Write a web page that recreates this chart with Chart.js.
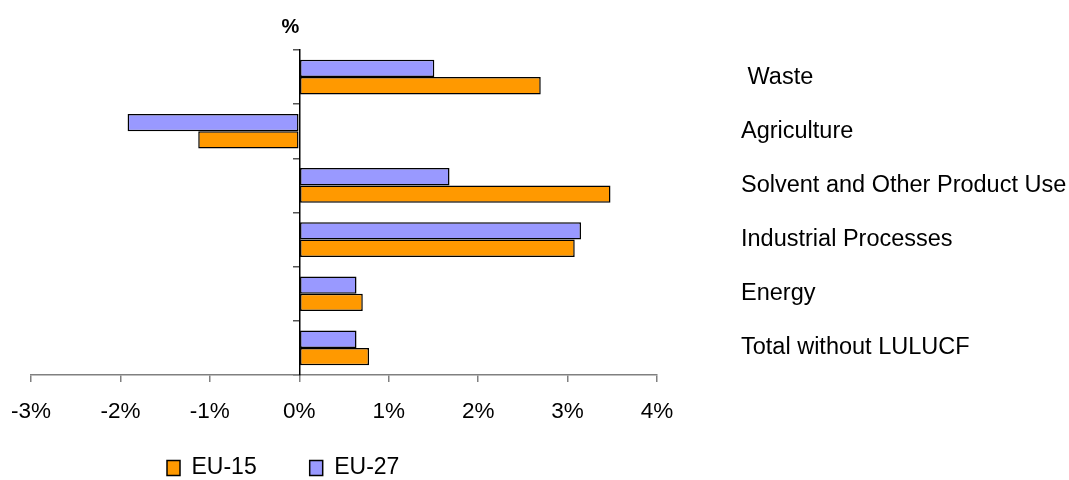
<!DOCTYPE html>
<html>
<head>
<meta charset="utf-8">
<script src="https://cdn.jsdelivr.net/npm/chart.js@4.4.1/dist/chart.umd.min.js"></script>
<style>
  html, body { margin: 0; padding: 0; background: #fff; }
  #wrap { width: 1069px; height: 480px; position: relative; }
</style>
</head>
<body>
<div id="wrap"><canvas id="c" width="1069" height="480"></canvas></div>
<script>
// ---- data ----
const categories = [' Waste', 'Agriculture', 'Solvent and Other Product Use', 'Industrial Processes', 'Energy', 'Total without LULUCF'];
const eu27 = [1.51, -1.92, 1.68, 3.15, 0.64, 0.64];
const eu15 = [2.70, -1.13, 3.48, 3.08, 0.71, 0.78];
const seriesNames = ['EU-27', 'EU-15'];
const xTickValues = [-3, -2, -1, 0, 1, 2, 3, 4];
const unitLabel = '%';

const FONT = "'Liberation Sans', Arial, sans-serif";
const LEG_PAD = 53;

const unitPlugin = {
  id: 'unitLabel',
  afterDraw(chart) {
    const ctx = chart.ctx;
    const x = chart.scales.x.getPixelForValue(0);
    ctx.save();
    ctx.font = 'bold 20px ' + FONT;
    ctx.fillStyle = '#000';
    ctx.textAlign = 'center';
    ctx.textBaseline = 'middle';
    ctx.fillText(unitLabel, x - 9, chart.chartArea.top - 23);
    ctx.restore();
  }
};

const legendPlace = {
  id: 'legendPlace',
  afterLayout(chart) {
    const lg = chart.legend;
    const w = lg.right - lg.left;
    lg.left = chart.chartArea.left + 136 - LEG_PAD;
    lg.right = lg.left + w;
    lg.top = chart.chartArea.bottom + 93 - LEG_PAD - 11.5;
  }
};

new Chart(document.getElementById('c'), {
  type: 'bar',
  data: {
    labels: categories,
    datasets: [
      { label: seriesNames[0], data: eu27, backgroundColor: '#9999FF', borderColor: '#000', borderWidth: 1.5, borderSkipped: false },
      { label: seriesNames[1], data: eu15, backgroundColor: '#FF9900', borderColor: '#000', borderWidth: 1.5, borderSkipped: false }
    ]
  },
  options: {
    indexAxis: 'y',
    responsive: false,
    animation: false,
    devicePixelRatio: 1,
    datasets: { bar: { categoryPercentage: 0.64, barPercentage: 1.0 } },
    layout: { padding: { left: 31, top: 50, right: 0, bottom: 0 } },
    scales: {
      x: {
        type: 'linear',
        min: -3, max: 4,
        afterBuildTicks(scale) { scale.ticks = xTickValues.map(v => ({ value: v })); },
        afterFit(scale) { scale.paddingLeft = 0; scale.paddingRight = 0; },
        ticks: {
          callback: v => v + '%',
          font: { family: FONT, size: 22.5 },
          color: '#000',
          padding: 16,
          maxRotation: 0
        },
        grid: { drawOnChartArea: false, drawTicks: true, tickLength: 7, color: '#808080', lineWidth: 1.5 },
        border: { color: '#808080', width: 1.5 }
      },
      y: {
        type: 'category',
        position: { x: 0 },
        ticks: { display: false },
        grid: { offset: true, drawOnChartArea: false, tickLength: 6, color: '#555', lineWidth: 1.5 },
        border: { color: '#000', width: 1.5 }
      },
      y2: {
        type: 'category',
        position: 'right',
        labels: categories,
        offset: true,
        afterFit(scale) {
          scale.width = 412;
          scale.paddingTop = 0;
          scale.paddingBottom = 0;
        },
        ticks: {
          font: { family: FONT, size: 23.5 },
          color: '#000',
          padding: 84,
          crossAlign: 'near'
        },
        grid: { display: false, drawTicks: false },
        border: { display: false }
      }
    },
    plugins: {
      legend: {
        position: 'bottom',
        align: 'start',
        reverse: true,
        maxHeight: 39,
        labels: {
          font: { family: FONT, size: 23 },
          color: '#000',
          boxWidth: 13,
          boxHeight: 15,
          padding: LEG_PAD,
          generateLabels(chart) {
            const items = Chart.defaults.plugins.legend.labels.generateLabels(chart);
            items.forEach(it => { it.lineWidth = 1.5; it.strokeStyle = '#000'; });
            return items;
          }
        }
      },
      title: { display: false },
      tooltip: { enabled: false }
    }
  },
  plugins: [unitPlugin, legendPlace]
});
</script>
</body>
</html>
